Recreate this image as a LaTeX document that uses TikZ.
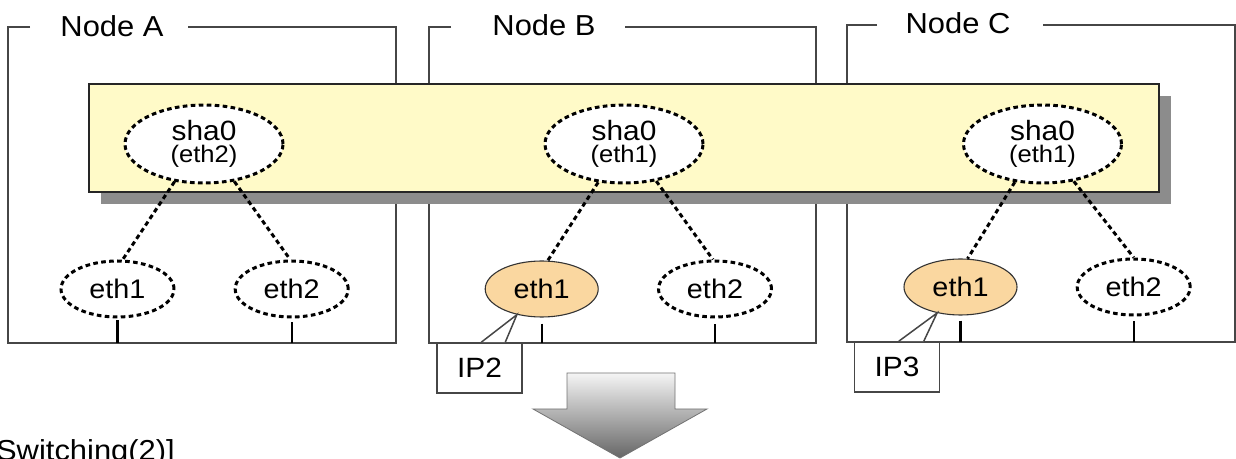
\documentclass[tikz,border=0pt]{standalone}
\usepackage{fontspec}
\setmainfont{Liberation Sans}[FakeStretch=1.07]
\usetikzlibrary{shapes.geometric}
\definecolor{bandc}{RGB}{255,250,200}
\definecolor{shadowc}{RGB}{140,140,140}
\definecolor{ethfill}{RGB}{250,215,160}
\definecolor{framec}{RGB}{70,70,70}
\begin{document}
\begin{tikzpicture}[x=1bp,y=-1bp,
  frame/.style={draw=framec, line width=1.5bp},
  ttl/.style={font=\fontsize{29}{29}\selectfont, anchor=base, inner sep=0},
  dotl/.style={line width=3bp, dash pattern=on 4.6bp off 3.4bp},
  sha/.style={ellipse, draw, dotl, fill=white, minimum width=158bp, minimum height=78bp,
    inner sep=0, align=center, font=\fontsize{28}{22}\selectfont},
  eth/.style={ellipse, draw, dotl, fill=white, minimum width=113bp, minimum height=56bp,
    inner sep=0, font=\fontsize{27}{27}\selectfont},
  ethon/.style={ellipse, draw=black!80, line width=1.1bp, fill=ethfill, minimum width=113bp,
    minimum height=56bp, inner sep=0, font=\fontsize{27}{27}\selectfont},
  tickl/.style={line width=2.4bp},
  ipbox/.style={draw=framec, line width=1.5bp, fill=white, minimum width=85bp, minimum height=50bp,
    inner sep=0, font=\fontsize{28}{28}\selectfont},
  pointer/.style={draw=framec, line width=1.5bp},
]
\useasboundingbox (0,0) rectangle (1236,459);
\clip (0,0) rectangle (1236,459);

% frames of the three nodes
\draw[frame] (30,27) -- (8,27) -- (8,343) -- (396,343) -- (396,27) -- (188,27);
\node[ttl] (tA) at (112,36.5) {Node A};
\draw[frame] (451,27) -- (429,27) -- (429,343) -- (816,343) -- (816,27) -- (625,27);
\node[ttl] (tB) at (544,35.5) {Node B};
\draw[frame] (877,25) -- (847,25) -- (847,342) -- (1235,342) -- (1235,25) -- (1043,25);
\node[ttl] (tC) at (958,33.5) {Node C};

\coordinate (botA) at (0,343);
\coordinate (botC) at (0,342);

% band with shadow
\fill[shadowc] (101,96) rectangle (1171,204);
\draw[fill=bandc, line width=1.5bp, draw=black!85] (89,84) rectangle (1159,192);

% sha0 nodes
\node[sha] (shaA) at (204,144) {sha0\\{\fontsize{24}{22}\selectfont (eth2)}};
\node[sha] (shaB) at (624,144) {sha0\\{\fontsize{24}{22}\selectfont (eth1)}};
\node[sha] (shaC) at (1042.5,144) {sha0\\{\fontsize{24}{22}\selectfont (eth1)}};

% eth nodes
\node[eth] (ethA1) at (117.5,289) {eth1};
\node[eth] (ethA2) at (291.7,289) {eth2};
\node[ethon] (ethB1) at (541.7,289) {eth1};
\node[eth] (ethB2) at (715,289) {eth2};
\node[ethon] (ethC1) at (960.5,287) {eth1};
\node[eth] (ethC2) at (1133.7,287) {eth2};

% dotted links
\draw[dotl] (shaA.232) -- (ethA1.80);
\draw[dotl] (shaA.309) -- (ethA2.93);
\draw[dotl] (shaB.236) -- (ethB1.78);
\draw[dotl] (shaB.311) -- (ethB2.94);
\draw[dotl] (shaC.234) -- (ethC1.76);
\draw[dotl] (shaC.310) -- (ethC2.90);

% ticks to the frame bottom
\draw[tickl] ([yshift=-2bp]ethA1.south) -- (ethA1.south |- botA);
\draw[tickl] ([yshift=-4bp]ethA2.south) -- (ethA2.south |- botA);
\draw[tickl] ([yshift=-6bp]ethB1.south) -- (ethB1.south |- botA);
\draw[tickl] ([yshift=-6bp]ethB2.south) -- (ethB2.south |- botA);
\draw[tickl] ([yshift=-5bp]ethC1.south) -- (ethC1.south |- botC);
\draw[tickl] ([yshift=-5bp]ethC2.south) -- (ethC2.south |- botC);

% callouts
\node[ipbox] (ip2) at (479.5,368) {IP2};
\fill[white] ([xshift=45bp]ip2.north west) -- (ethB1.226) -- ([xshift=69bp]ip2.north west) -- cycle;
\draw[pointer] ([xshift=45bp]ip2.north west) -- (ethB1.226) -- ([xshift=69bp]ip2.north west);
\node[ipbox] (ip3) at (897,367) {IP3};
\fill[white] ([xshift=45bp]ip3.north west) -- (ethC1.228) -- ([xshift=70bp]ip3.north west) -- cycle;
\draw[pointer] ([xshift=45bp]ip3.north west) -- (ethC1.228) -- ([xshift=70bp]ip3.north west);

% down arrow
\shade[top color=black!4, bottom color=black!60, draw=black!55, line width=0.8bp]
  (567,373) -- (675,373) -- (675,409) -- (707,409) -- (620,458) -- (533,409) -- (567,409) -- cycle;

% bottom caption (cut by the picture's edge)
\node[font=\fontsize{29}{29}\selectfont, anchor=base east, inner sep=0] (cap) at (175,461) {Switching(2)]};
\end{tikzpicture}
\end{document}
